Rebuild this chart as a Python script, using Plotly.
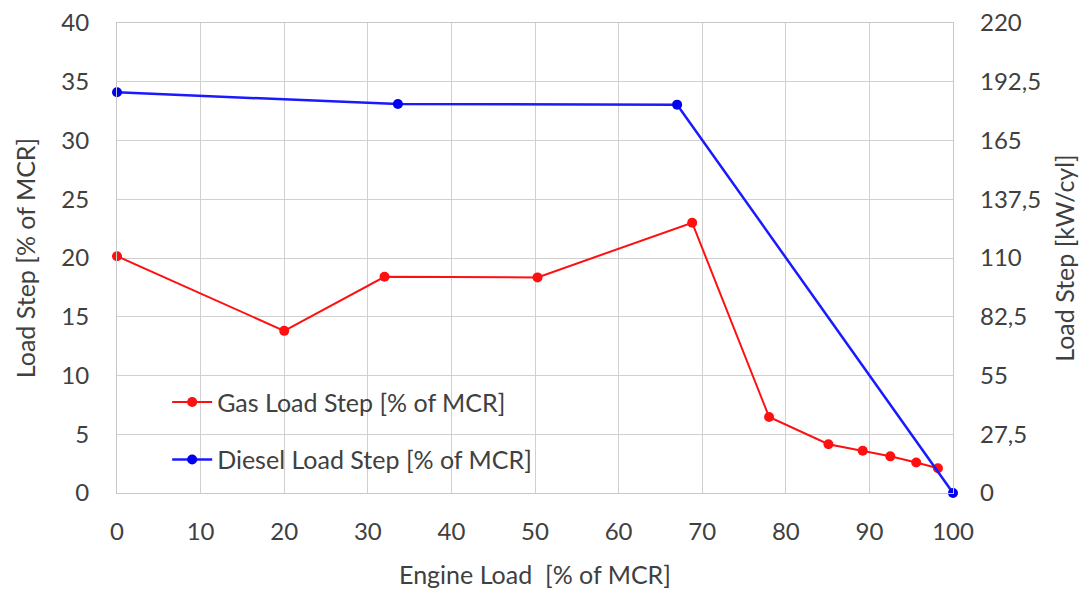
import plotly.graph_objects as go

gas_x = [0, 20, 32, 50.3, 68.8, 78, 85.1, 89.2, 92.5, 95.6, 98.2]
gas_y = [20.15, 13.8, 18.4, 18.35, 23.0, 6.47, 4.15, 3.6, 3.12, 2.6, 2.1]
diesel_x = [0, 33.6, 67.0, 100]
diesel_y = [34.1, 33.1, 33.05, 0]

x_ticks = [0, 10, 20, 30, 40, 50, 60, 70, 80, 90, 100]
y_ticks = [0, 5, 10, 15, 20, 25, 30, 35, 40]
y2_ticks = [0, 27.5, 55, 82.5, 110, 137.5, 165, 192.5, 220]
y2_labels = ["0", "27,5", "55", "82,5", "110", "137,5", "165", "192,5", "220"]

FONT = "Lato"
TXT = "#404040"
TICK = 24
TITLE = 25

fig = go.Figure()
fig.add_trace(go.Scatter(x=gas_x, y=gas_y, mode="lines+markers",
                         name="Gas Load Step [% of MCR]", legendgroup="g", cliponaxis=False,
                         line=dict(color="#ff1010", width=2),
                         marker=dict(color="#ff1010", size=10)))
fig.add_trace(go.Scatter(x=diesel_x, y=diesel_y, mode="lines+markers",
                         name="Diesel Load Step [% of MCR]", legendgroup="d", cliponaxis=False,
                         line=dict(color="#1a1aff", width=2.5),
                         marker=dict(color="#0000ee", size=10)))
fig.add_trace(go.Scatter(x=[], y=[], yaxis="y2", showlegend=False, hoverinfo="skip"))

fig.add_shape(type="rect", xref="paper", yref="paper", x0=0.002, x1=0.542, y0=0.0, y1=0.253,
              fillcolor="white", line=dict(width=0), layer="between")

fig.update_layout(
    width=1083, height=586,
    margin=dict(l=109, r=138, t=15, b=101, autoexpand=False),
    paper_bgcolor="white", plot_bgcolor="white",
    font=dict(family=FONT, size=18, color=TXT),
    xaxis=dict(range=[0, 100], tickvals=x_ticks, showgrid=True, gridcolor="#d0d0d0",
               gridwidth=1, zeroline=False, showline=True, linecolor="#c8c8c8", mirror=True,
               ticks="", tickfont=dict(size=TICK, color=TXT), ticklabelstandoff=17,
               automargin=False, ticklabeloverflow="allow",
               title=dict(text="Engine Load  [% of MCR]", font=dict(size=TITLE, color=TXT), standoff=22)),
    yaxis=dict(range=[0, 40], tickvals=y_ticks, showgrid=True, gridcolor="#d0d0d0",
               zeroline=False, showline=True, linecolor="#c8c8c8", mirror=True, ticks="",
               tickfont=dict(size=TICK, color=TXT), ticklabelstandoff=22, automargin=False,
               ticklabeloverflow="allow",
               title=dict(text="Load Step [% of MCR]", font=dict(size=TITLE, color=TXT), standoff=18)),
    yaxis2=dict(range=[0, 220], overlaying="y", side="right", tickvals=y2_ticks,
                ticktext=y2_labels, showgrid=False, zeroline=False, ticks="",
                tickfont=dict(size=TICK, color=TXT), ticklabelstandoff=26, automargin=False,
                ticklabeloverflow="allow",
                title=dict(text="Load Step [kW/cyl]", font=dict(size=TITLE, color=TXT), standoff=16)),
    legend=dict(x=0.06, y=0.242, xanchor="left", yanchor="top", bgcolor="rgba(0,0,0,0)",
                font=dict(size=25, color=TXT), tracegroupgap=22, traceorder="grouped",
                itemwidth=40),
    showlegend=True,
)

fig.write_html("out.html")
